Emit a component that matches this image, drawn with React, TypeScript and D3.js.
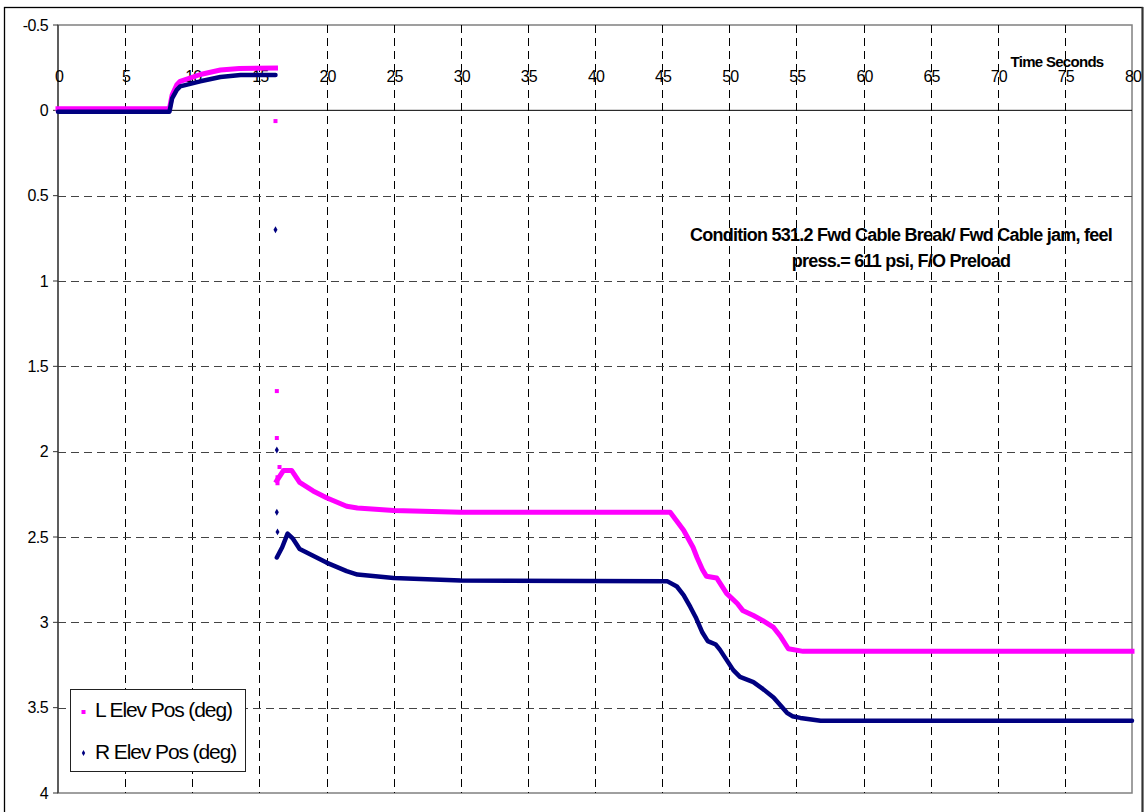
import React from "react";
import * as d3 from "d3";

type Pt = [number, number];

const xTicks = [0, 5, 10, 15, 20, 25, 30, 35, 40, 45, 50, 55, 60, 65, 70, 75, 80];
const yTicks = [-0.5, 0, 0.5, 1, 1.5, 2, 2.5, 3, 3.5, 4];
const yTickLabels = ["-0.5", "0", "0.5", "1", "1.5", "2", "2.5", "3", "3.5", "4"];

const seriesNames = ["L Elev Pos (deg)", "R Elev Pos (deg)"];
const seriesColors = ["#FF00FF", "#000080"];
const axisTitle = "Time Seconds";
const annotationLines = [
  "Condition 531.2 Fwd Cable Break/ Fwd Cable jam, feel",
  "press.= 611 psi, F/O Preload",
];

// L Elev Pos (deg): time (s), value (deg)
const lBefore: Pt[] = [
  [0, -0.01], [8.3, -0.01], [8.5, -0.09], [8.85, -0.15], [9.1, -0.17],
  [10.6, -0.21], [12.1, -0.236], [13.5, -0.245], [16.2, -0.248],
];
const lAfter: Pt[] = [
  [16.3, 2.17], [16.8, 2.11], [17.4, 2.11], [18.0, 2.18], [19.0, 2.23],
  [20.0, 2.27], [21.5, 2.32], [22.3, 2.33], [25, 2.345], [30, 2.355],
  [45.6, 2.355], [46.6, 2.46], [47.3, 2.56], [47.6, 2.62], [48.0, 2.69],
  [48.3, 2.73], [49.06, 2.74], [49.8, 2.83], [50.6, 2.89], [51.0, 2.93],
  [51.8, 2.96], [52.5, 2.99], [53.3, 3.03], [53.8, 3.08], [54.4, 3.155],
  [55.5, 3.17], [80, 3.17],
];
const lIsolated: Pt[] = [
  [16.2, 0.063], [16.3, 1.645], [16.3, 1.92], [16.5, 2.09], [16.35, 2.15], [16.35, 2.185],
];

// R Elev Pos (deg)
const rBefore: Pt[] = [
  [0, 0.008], [8.3, 0.008], [8.5, -0.07], [8.85, -0.12], [9.1, -0.14],
  [10.6, -0.17], [12.1, -0.195], [13.6, -0.207], [16.2, -0.207],
];
const rAfter: Pt[] = [
  [16.3, 2.62], [16.7, 2.56], [17.1, 2.48], [17.5, 2.51], [18.0, 2.57],
  [19.0, 2.61], [20.0, 2.65], [21.5, 2.70], [22.3, 2.72], [25, 2.74],
  [30, 2.755], [45.4, 2.76], [46.1, 2.79], [46.6, 2.84], [47.1, 2.91],
  [47.5, 2.97], [48.0, 3.06], [48.4, 3.11], [49.0, 3.13], [49.3, 3.16],
  [50.3, 3.28], [50.8, 3.32], [51.8, 3.35], [52.5, 3.39], [53.3, 3.44],
  [54.3, 3.53], [54.7, 3.55], [55.3, 3.56], [56.8, 3.577], [80, 3.577],
];
const rIsolated: Pt[] = [
  [16.2, 0.70], [16.3, 1.99], [16.3, 2.355], [16.35, 2.47],
];

const W = 1148;
const H = 812;
const plot = { left: 58, right: 1132, top: 25, bottom: 793 };
const FONT = "'Liberation Sans', Arial, sans-serif";

export default function App() {
  const x = d3.scaleLinear().domain([0, 80]).range([plot.left, plot.right]);
  const y = d3.scaleLinear().domain([-0.5, 4]).range([plot.top, plot.bottom]);
  const line = d3
    .line<Pt>()
    .x((d) => x(d[0]))
    .y((d) => y(d[1]))
    .curve(d3.curveLinear);
  const diamond = d3.symbol().type(d3.symbolDiamond).size(14)() as string;
  const diamondLegend = d3.symbol().type(d3.symbolDiamond).size(10)() as string;

  return (
    <svg
      width={W}
      height={H}
      style={{ position: "absolute", left: 0, top: 0, background: "#fff" }}
      fontFamily={FONT}
    >
      <rect x={0} y={0} width={W} height={H} fill="#fff" />
      {/* outer frame */}
      <rect x={4.5} y={7.5} width={1138} height={900} fill="none" stroke="#000" strokeWidth={1.3} />
      <line x1={1142.5} y1={7} x2={1142.5} y2={H} stroke="#333" strokeWidth={2} />

      {/* plot area border */}
      <rect
        x={plot.left}
        y={plot.top}
        width={plot.right - plot.left}
        height={plot.bottom - plot.top}
        fill="#fff"
        stroke="#808080"
        strokeWidth={1.5}
      />

      {/* vertical gridlines */}
      {xTicks.slice(1, -1).map((t) => (
        <line
          key={"vg" + t}
          x1={Math.round(x(t)) + 0.5}
          x2={Math.round(x(t)) + 0.5}
          y1={plot.top}
          y2={plot.bottom}
          stroke="#000"
          strokeWidth={1}
          strokeDasharray="8,5"
        />
      ))}
      {/* horizontal gridlines */}
      {yTicks.filter((v) => v !== -0.5 && v !== 0 && v !== 4).map((v) => (
        <line
          key={"hg" + v}
          x1={plot.left}
          x2={plot.right}
          y1={Math.round(y(v)) + 0.5}
          y2={Math.round(y(v)) + 0.5}
          stroke="#444"
          strokeWidth={1}
          strokeDasharray="8,5"
        />
      ))}

      {/* x axis at value 0 */}
      <line x1={plot.left} x2={plot.right} y1={y(0)} y2={y(0)} stroke="#000" strokeWidth={1} />
      {/* y axis */}
      <line x1={plot.left} x2={plot.left} y1={plot.top} y2={plot.bottom} stroke="#333" strokeWidth={1.2} />
      {yTicks.map((v) => (
        <line key={"yt" + v} x1={plot.left - 5} x2={plot.left} y1={y(v)} y2={y(v)} stroke="#333" strokeWidth={1} />
      ))}
      {yTicks.map((v, i) => (
        <text
          key={"yl" + v}
          x={48}
          y={y(v) + 5.5}
          textAnchor="end"
          fontSize={16}
          letterSpacing={-0.6}
          fill="#000"
        >
          {yTickLabels[i]}
        </text>
      ))}
      {xTicks.map((t) => (
        <text
          key={"xl" + t}
          x={x(t) + 1}
          y={82}
          textAnchor="middle"
          fontSize={16}
          letterSpacing={-0.8}
          fill="#000"
        >
          {t}
        </text>
      ))}
      <text x={1057} y={67} textAnchor="middle" fontSize={15} fontWeight="bold" letterSpacing={-0.7} fill="#000">
        {axisTitle}
      </text>

      {/* series L */}
      <g fill="none" stroke={seriesColors[0]} strokeLinejoin="round" strokeLinecap="square">
        <path d={line(lBefore) as string} strokeWidth={5} />
        <path d={line(lAfter) as string} strokeWidth={5} />
      </g>
      {lIsolated.map((d, i) => (
        <rect key={"li" + i} x={x(d[0]) - 2} y={y(d[1]) - 2} width={4} height={4} fill={seriesColors[0]} />
      ))}
      {/* series R */}
      <g fill="none" stroke={seriesColors[1]} strokeLinejoin="round" strokeLinecap="round">
        <path d={line(rBefore) as string} strokeWidth={4.5} />
        <path d={line(rAfter) as string} strokeWidth={4.5} />
      </g>
      {rIsolated.map((d, i) => (
        <path key={"ri" + i} d={diamond} transform={`translate(${x(d[0])},${y(d[1])})`} fill={seriesColors[1]} />
      ))}

      {/* annotation */}
      {annotationLines.map((s, i) => (
        <text
          key={"an" + i}
          x={901}
          y={241 + i * 26}
          textAnchor="middle"
          fontSize={18}
          fontWeight="bold"
          letterSpacing={-0.75}
          fill="#000"
        >
          {s}
        </text>
      ))}

      {/* legend */}
      <rect x={70.5} y={689.5} width={175} height={82} fill="#fff" stroke="#222" strokeWidth={1} />
      <rect x={81.5} y={710} width={4} height={4} fill={seriesColors[0]} />
      <path d={diamondLegend} transform="translate(83.5,753)" fill={seriesColors[1]} />
      {seriesNames.map((s, i) => (
        <text key={"lg" + i} x={95} y={717 + i * 42} fontSize={21} letterSpacing={-1.1} fill="#000">
          {s}
        </text>
      ))}
    </svg>
  );
}
